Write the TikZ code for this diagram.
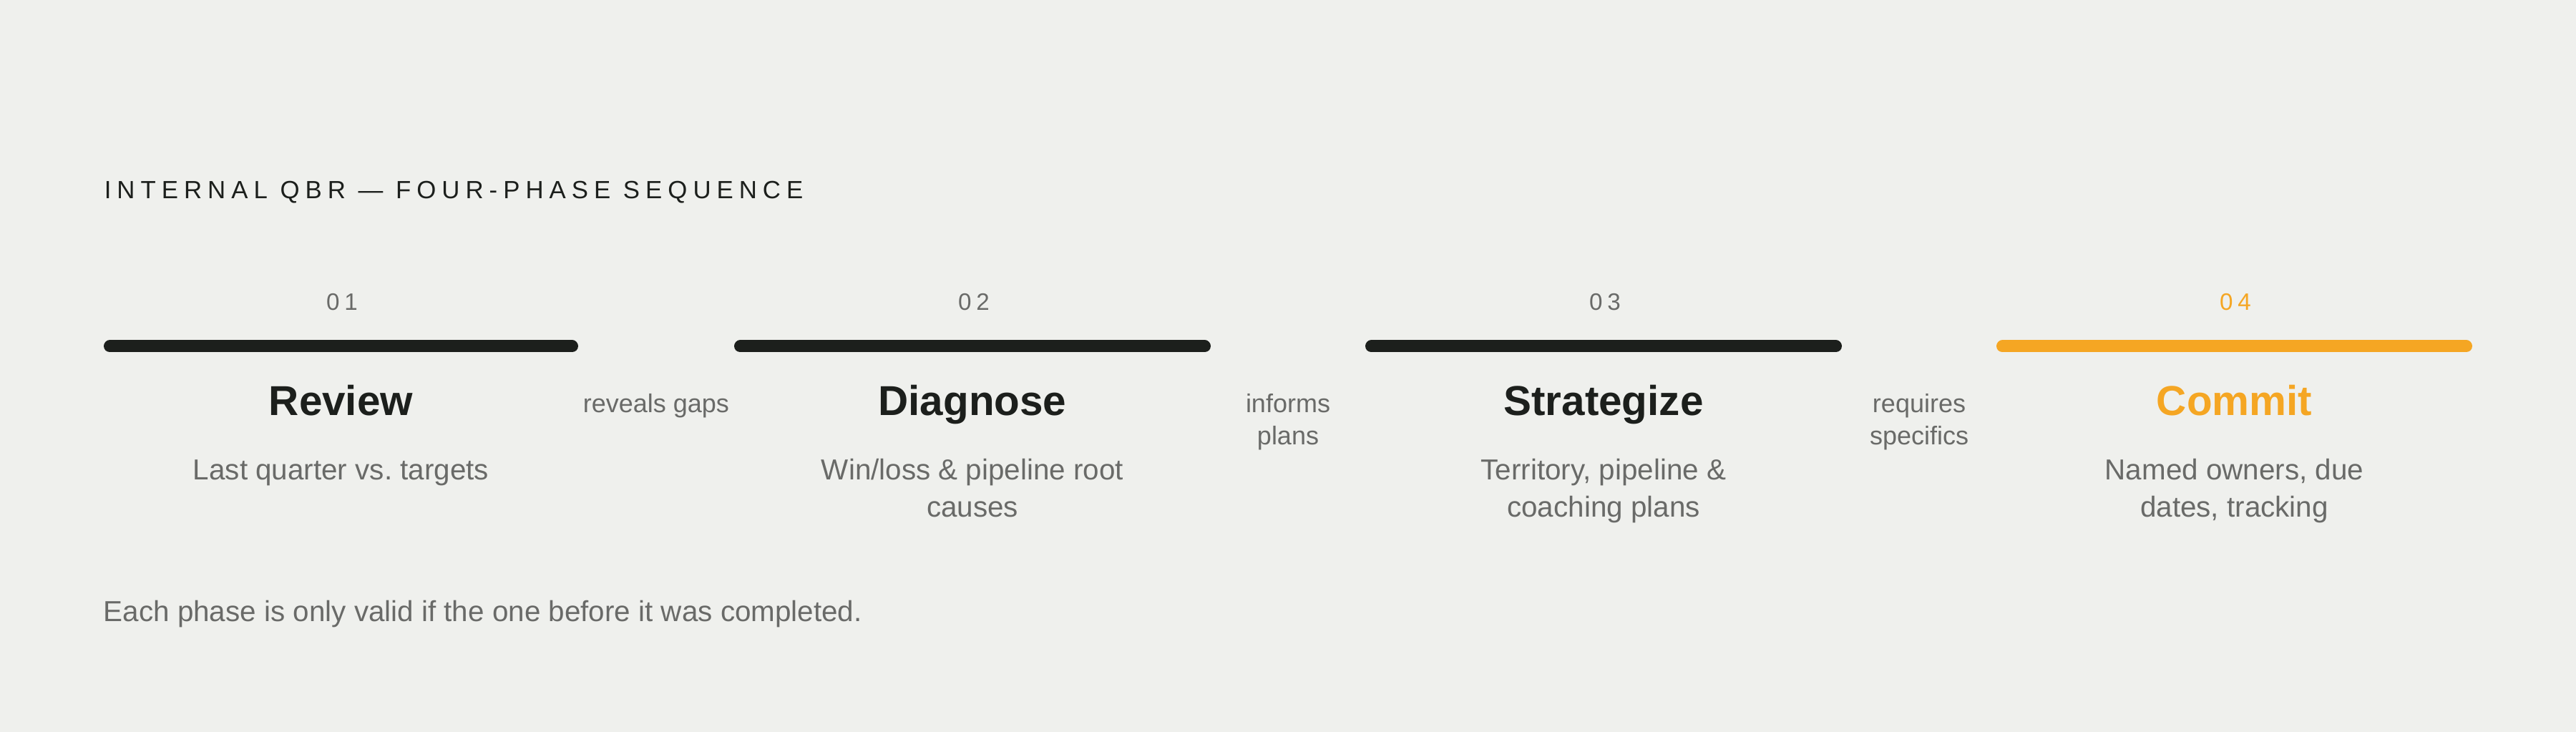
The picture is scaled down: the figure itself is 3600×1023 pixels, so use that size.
\documentclass[tikz,border=0pt]{standalone}
\usepackage{fontspec}
\setmainfont{Liberation Sans}
\frenchspacing
\definecolor{bg}{HTML}{EFF0ED}
\definecolor{ink}{HTML}{1C1F1C}
\definecolor{accent}{HTML}{F5A623}
\definecolor{muted}{HTML}{696A68}
\tikzset{
  bar/.style={line width=4.25pt, line cap=round, draw=ink},
  num/.style={anchor=base, inner sep=0pt, text=muted, font=\fontsize{8.3}{10}\selectfont\addfontfeature{LetterSpace=20}},
  phase/.style={anchor=base, inner sep=0pt, text=ink, font=\fontsize{14.6}{17}\selectfont\bfseries},
  desc/.style={anchor=base, inner sep=0pt, text=muted, font=\fontsize{10.1}{12}\selectfont},
  lbl/.style={anchor=base, inner sep=0pt, text=muted, font=\fontsize{9}{11}\selectfont},
  heading/.style={anchor=base west, inner sep=0pt, text=ink, font=\fontsize{8.7}{10}\selectfont\addfontfeature{LetterSpace=23}},
  foot/.style={anchor=base west, inner sep=0pt, text=muted, font=\fontsize{10.1}{12}\selectfont},
}
\begin{document}
\begin{tikzpicture}[x=0.25pt,y=-0.25pt]
\fill[bg] (0,0) rectangle (3600,1023);
\useasboundingbox (0,0) rectangle (3600,1023);

\node[heading] (title) at (145,278) {INTERNAL QBR — FOUR-PHASE SEQUENCE};

% bars
\coordinate (b1s) at (153.5,484); \coordinate (b1e) at (799.5,484);
\coordinate (b2s) at (1034.5,484); \coordinate (b2e) at (1683.5,484);
\coordinate (b3s) at (1916.5,484); \coordinate (b3e) at (2565.5,484);
\coordinate (b4s) at (2798.5,484); \coordinate (b4e) at (3446.5,484);
\draw[bar] (b1s) -- (b1e);
\draw[bar] (b2s) -- (b2e);
\draw[bar] (b3s) -- (b3e);
\draw[bar, draw=accent] (b4s) -- (b4e);

% numbers
\node[num] (n1) at (478,434) {01};
\node[num] (n2) at (1361,434) {02};
\node[num] (n3) at (2243,434) {03};
\node[num, text=accent] (n4) at (3124,434) {04};

% phase titles
\node[phase] (p1) at (476.5,581) {Review};
\node[phase] (p2) at (1359,581) {Diagnose};
\node[phase] (p3) at (2241,581) {Strategize};
\node[phase, text=accent] (p4) at (3122.5,581) {Commit};

% descriptions
\node[desc] (d1a) at (476.5,671) {Last quarter vs. targets};
\node[desc] (d2a) at (1359,671) {Win/loss \& pipeline root};
\node[desc] (d2b) at (1359,723) {causes};
\node[desc] (d3a) at (2241,671) {Territory, pipeline \&};
\node[desc] (d3b) at (2241,723) {coaching plans};
\node[desc] (d4a) at (3122.5,671) {Named owners, due};
\node[desc] (d4b) at (3122.5,723) {dates, tracking};

% transition labels
\node[lbl] (l1) at (917,577) {reveals gaps};
\node[lbl] (l2a) at (1800,577) {informs};
\node[lbl] (l2b) at (1800,622) {plans};
\node[lbl] (l3a) at (2682,577) {requires};
\node[lbl] (l3b) at (2682,622) {specifics};

% footer
\node[foot] (note) at (144,869) {Each phase is only valid if the one before it was completed.};
\end{tikzpicture}
\end{document}
